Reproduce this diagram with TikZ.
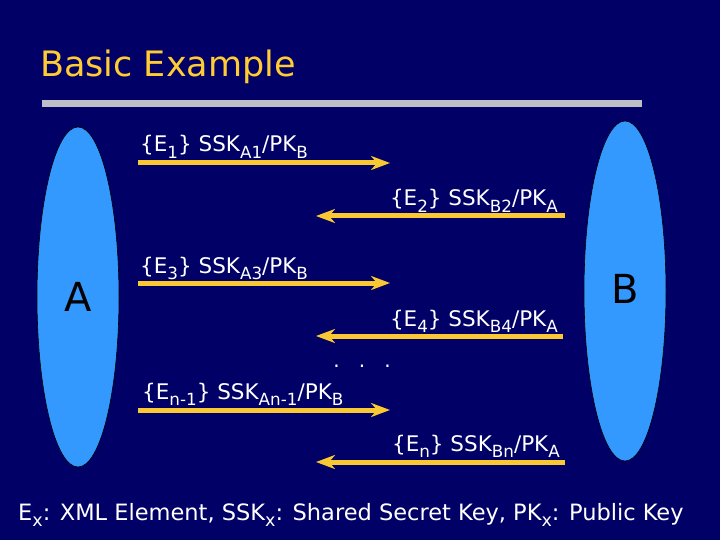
\documentclass[tikz,border=0pt]{standalone}
\usepackage{fontspec}
\setmainfont{DejaVu Sans}
\usetikzlibrary{shapes.geometric,arrows.meta}
\definecolor{bgnavy}{RGB}{0,0,102}
\definecolor{partyblue}{RGB}{51,153,255}
\definecolor{gold}{RGB}{250,200,50}
\definecolor{titlegold}{RGB}{255,204,51}
\definecolor{bargray}{RGB}{190,190,200}
\newcommand{\sbs}[1]{\raisebox{-0.3em}{\scalebox{0.78}{#1}}}
\tikzset{
  party/.style={ellipse, draw=black, line width=0.6pt, fill=partyblue, inner sep=0pt,
     minimum width=82pt, minimum height=340pt, font=\fontsize{40}{44}\selectfont, text=black},
  msg/.style={gold, line width=5pt, -{Stealth[length=19pt,width=14pt,inset=6pt]}},
  msglabel/.style={text=white, inner sep=0pt, font=\fontsize{21.5}{24}\selectfont},
}
\begin{document}
\begin{tikzpicture}[x=1pt,y=-1pt]
\fill[bgnavy] (0,0) rectangle (720,540);
\useasboundingbox (0,0) rectangle (720,540);
\node[anchor=base west, text=titlegold, inner sep=0pt, font=\fontsize{35}{40}\selectfont] (title) at (40,77) {Basic Example};
\fill[bargray] (42,100) rectangle (642,107);
\node[party] (A) at (78,297) {A};
\node[party] (B) at (625,291) {\raisebox{5pt}{B}};
% message 1
\coordinate (s1) at (138,163); \coordinate (e1) at (390,163);
\draw[msg] (s1) -- (e1);
\node[msglabel, anchor=base west] (l1) at (140,152) {\{E\sbs{1}\} SSK\sbs{A1}/PK\sbs{B}};
% message 2
\coordinate (s2) at (565,216); \coordinate (e2) at (316,216);
\draw[msg] (s2) -- (e2);
\node[msglabel, anchor=base east] (l2) at (558,206) {\{E\sbs{2}\} SSK\sbs{B2}/PK\sbs{A}};
% message 3
\coordinate (s3) at (138,283); \coordinate (e3) at (390,283);
\draw[msg] (s3) -- (e3);
\node[msglabel, anchor=base west] (l3) at (140,273) {\{E\sbs{3}\} SSK\sbs{A3}/PK\sbs{B}};
% message 4
\coordinate (s4) at (563,336); \coordinate (e4) at (316,336);
\draw[msg] (s4) -- (e4);
\node[msglabel, anchor=base east] (l4) at (558,326) {\{E\sbs{4}\} SSK\sbs{B4}/PK\sbs{A}};
% dots
\node[text=white, inner sep=0pt, font=\fontsize{20}{22}\selectfont] (dots) at (362,366) {.\ \ \ .\ \ \ .};
% message n-1
\coordinate (s5) at (138,410); \coordinate (e5) at (390,410);
\draw[msg] (s5) -- (e5);
\node[msglabel, anchor=base west] (l5) at (142,399) {\{E\sbs{n-1}\} SSK\sbs{An-1}/PK\sbs{B}};
% message n
\coordinate (s6) at (565,462); \coordinate (e6) at (316,462);
\draw[msg] (s6) -- (e6);
\node[msglabel, anchor=base east] (l6) at (560,451) {\{E\sbs{n}\} SSK\sbs{Bn}/PK\sbs{A}};
% footer
\node[text=white, anchor=base west, inner sep=0pt, font=\fontsize{22.5}{26}\selectfont] (foot) at (18,520) {E\sbs{x}: XML Element, SSK\sbs{x}: Shared Secret Key, PK\sbs{x}: Public Key};
\end{tikzpicture}
\end{document}
